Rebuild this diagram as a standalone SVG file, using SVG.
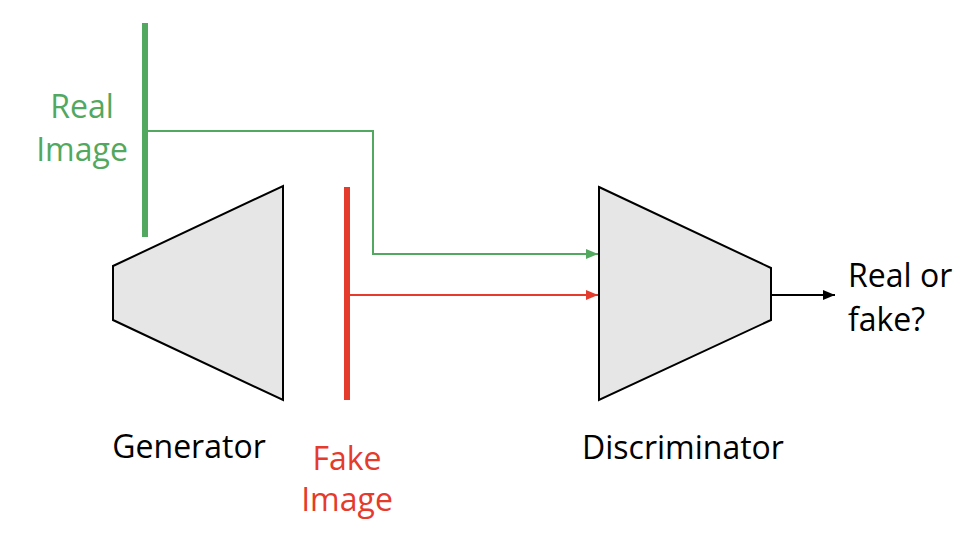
<svg xmlns="http://www.w3.org/2000/svg" width="980" height="558" viewBox="0 0 980 558">
<defs>
<style>
.lbl{font-family:"Open Sans","Noto Sans",sans-serif;font-size:32px;text-anchor:middle}
.blk{fill:#000}
.grn{fill:#52A85E}
.red{fill:#E53B2C}
.net{fill:#E6E6E6;stroke:#000;stroke-width:2;stroke-linejoin:miter}
</style>
<marker id="ahG" markerWidth="12" markerHeight="10" refX="12" refY="5" orient="auto" markerUnits="userSpaceOnUse"><path d="M0,0 L12,5 L0,10 Z" fill="#52A85E"/></marker>
<marker id="ahR" markerWidth="12" markerHeight="10" refX="12" refY="5" orient="auto" markerUnits="userSpaceOnUse"><path d="M0,0 L12,5 L0,10 Z" fill="#E53B2C"/></marker>
<marker id="ahK" markerWidth="12" markerHeight="10" refX="12" refY="5" orient="auto" markerUnits="userSpaceOnUse"><path d="M0,0 L12,5 L0,10 Z" fill="#000"/></marker>
</defs>
<rect width="980" height="558" fill="#fff"/>
<g id="real-image">
<line x1="145" y1="23" x2="145" y2="237" stroke="#52A85E" stroke-width="6"/>
<text class="lbl grn" x="82" y="118">Real</text>
<text class="lbl grn" x="82" y="161">Image</text>
</g>
<g id="generator">
<polygon class="net" points="113,266 283,186 283,400 113,320"/>
<text class="lbl blk" x="189" y="458">Generator</text>
</g>
<g id="fake-image">
<line x1="347" y1="187" x2="347" y2="400" stroke="#E53B2C" stroke-width="6"/>
<text class="lbl red" x="347" y="470">Fake</text>
<text class="lbl red" x="347" y="511">Image</text>
</g>
<g id="discriminator">
<polygon class="net" points="599,187 771,268 771,320 599,400"/>
<text class="lbl blk" x="683" y="459">Discriminator</text>
</g>
<g id="output">
<text class="lbl blk" x="848" y="287" style="text-anchor:start">Real or</text>
<text class="lbl blk" x="848" y="331" style="text-anchor:start">fake?</text>
</g>
<g id="connectors" fill="none" stroke-width="2">
<polyline points="147,131 373,131 373,254 598,254" stroke="#52A85E" marker-end="url(#ahG)"/>
<line x1="349" y1="295" x2="598" y2="295" stroke="#E53B2C" marker-end="url(#ahR)"/>
<line x1="771" y1="295" x2="835" y2="295" stroke="#000" marker-end="url(#ahK)"/>
</g>
</svg>
